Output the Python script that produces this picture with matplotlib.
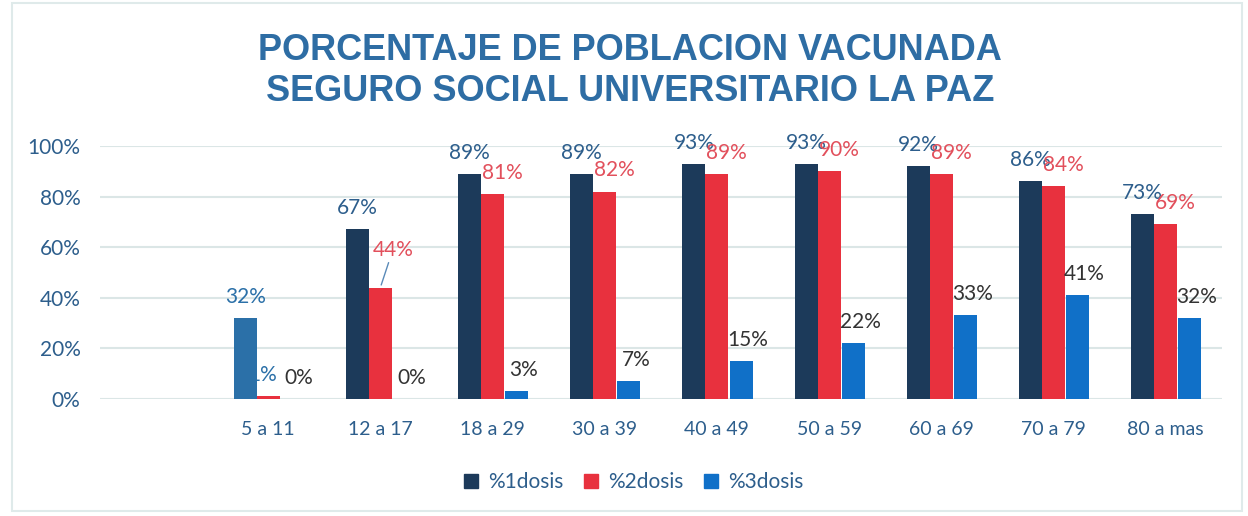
import numpy as np
import matplotlib
matplotlib.use("Agg")
import matplotlib.pyplot as plt
from matplotlib.patches import Patch, Rectangle

# data (first slot is an empty category)
categories = ["", "5 a 11", "12 a 17", "18 a 29", "30 a 39", "40 a 49",
              "50 a 59", "60 a 69", "70 a 79", "80 a mas"]
dosis1 = [np.nan, 32, 67, 89, 89, 93, 93, 92, 86, 73]
dosis2 = [np.nan, 1, 44, 81, 82, 89, 90, 89, 84, 69]
dosis3 = [np.nan, 0, 0, 3, 7, 15, 22, 33, 41, 32]
series_names = ["%1dosis", "%2dosis", "%3dosis"]

c1 = "#1c3a5a"
c2 = "#e8313e"
c3 = "#1070c8"
c1_first = "#2b70a8"
lab1 = "#2d5e8c"
lab2 = "#e2505c"
lab3 = "#333333"
axis_col = "#2d5e8c"

plt.rcParams['font.family'] = ['Lato', 'DejaVu Sans']

fig = plt.figure(figsize=(12.48, 5.16), dpi=100)
ax = fig.add_axes([0.080, 0.227, 0.899, 0.490])

x = np.arange(len(categories))
w = 0.205

cols1 = [c1] * len(categories)
cols1[1] = c1_first
ax.bar(x - w, np.array(dosis1) / 100, w, color=cols1, zorder=3)
ax.bar(x, np.array(dosis2) / 100, w, color=c2, zorder=3)
ax.bar(x + w + 0.01, np.array(dosis3) / 100, w, color=c3, zorder=3)

fs = 15
# data labels
for i in range(1, len(categories)):
    v1, v2, v3 = dosis1[i], dosis2[i], dosis3[i]
    col = lab1 if i > 1 else c1_first
    ax.annotate(f"{v1}%", (x[i] - w, v1 / 100), xytext=(0, 8), textcoords="offset points",
                ha="center", va="bottom", fontsize=fs, color=col, annotation_clip=False)
    if i == 1:
        ax.annotate(f"{v2}%", (x[i], v2 / 100), xytext=(-4, 8), textcoords="offset points",
                    ha="center", va="bottom", fontsize=fs, color=c1_first, annotation_clip=False)
    elif i == 2:
        ax.annotate(f"{v2}%", (x[i], v2 / 100), xytext=(9, 20), textcoords="offset points",
                    ha="center", va="bottom", fontsize=fs, color=lab2, annotation_clip=False,
                    arrowprops=dict(arrowstyle="-", color="#5a8ab8", lw=1,
                                    shrinkA=0, shrinkB=2))
    else:
        ax.annotate(f"{v2}%", (x[i], v2 / 100), xytext=(7, 8), textcoords="offset points",
                    ha="center", va="bottom", fontsize=fs, color=lab2, annotation_clip=False)
    ax.annotate(f"{v3}%", (x[i] + w + 0.01, v3 / 100), xytext=(5, 8), textcoords="offset points",
                ha="center", va="bottom", fontsize=fs, color=lab3, annotation_clip=False)

ax.set_xlim(-0.5, len(categories) - 0.5)
ax.set_ylim(0, 1.0)
ax.set_yticks(np.arange(0, 1.01, 0.2))
ax.set_yticklabels([f"{int(t * 100)}%" for t in np.arange(0, 1.01, 0.2)])
ax.set_xticks(x)
ax.set_xticklabels(categories)
ax.tick_params(axis="both", length=0, labelcolor=axis_col)
ax.tick_params(axis="x", pad=16, labelsize=14)
ax.tick_params(axis="y", pad=14, labelsize=15)
ax.grid(axis="y", color="#dbe6e6", lw=1.5, zorder=0)
for s in ax.spines.values():
    s.set_visible(False)

fig.text(0.505, 0.903, "PORCENTAJE DE POBLACION VACUNADA", ha="center", va="center",
         fontsize=26, fontweight="bold", color="#2e6da4", family="Liberation Sans")
fig.text(0.505, 0.822, "SEGURO SOCIAL UNIVERSITARIO LA PAZ", ha="center", va="center",
         fontsize=26, fontweight="bold", color="#2e6da4", family="Liberation Sans")

handles = [Patch(color=c1), Patch(color=c2), Patch(color=c3)]
leg = fig.legend(handles, series_names, loc="center", bbox_to_anchor=(0.508, 0.066),
                 ncol=3, frameon=False, fontsize=15, handlelength=0.65, handleheight=0.65,
                 columnspacing=1.0, handletextpad=0.5)
for t in leg.get_texts():
    t.set_color(axis_col)

# light frame around the chart
fig.patches.append(Rectangle((0.01, 0.01), 0.985, 0.985, transform=fig.transFigure,
                             fill=False, ec="#dfeaea", lw=1.5))

fig.savefig("out.png", dpi=100)
